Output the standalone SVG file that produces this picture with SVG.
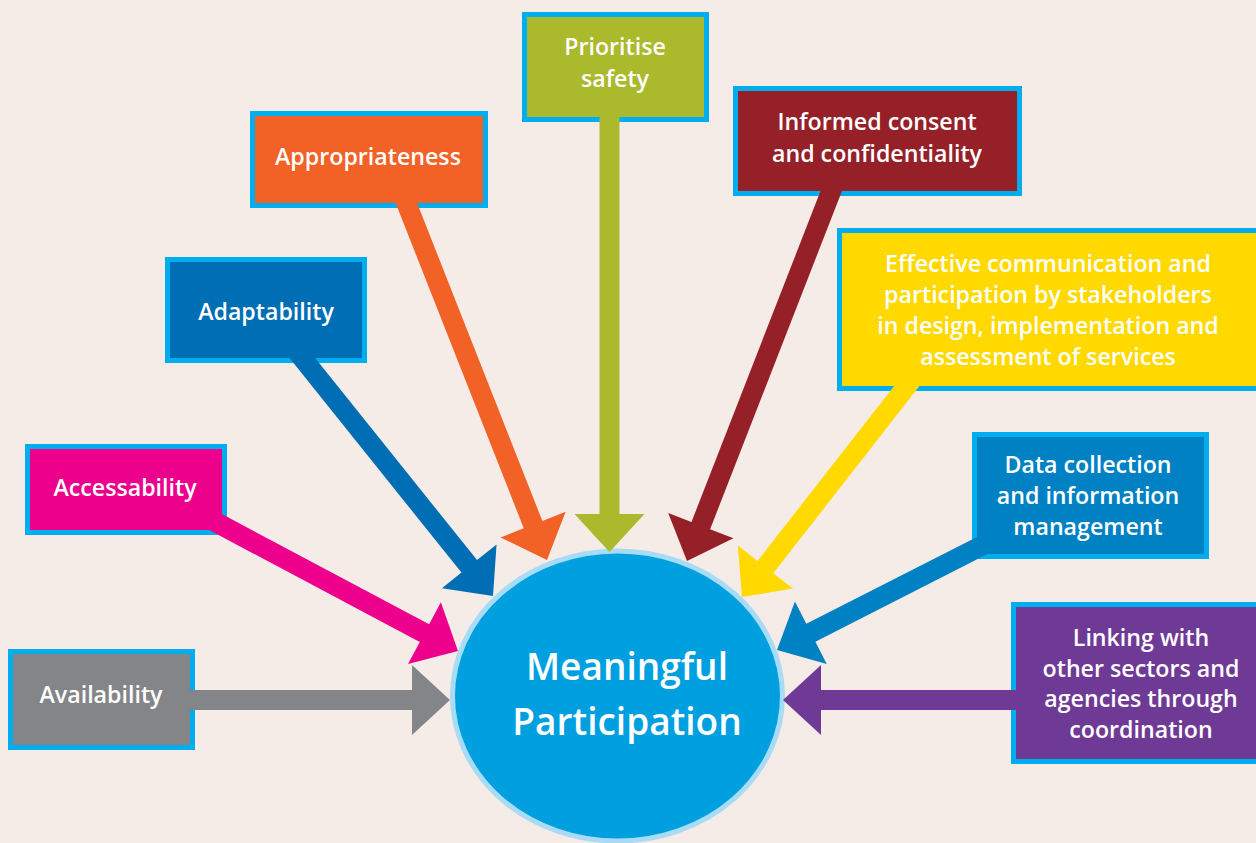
<svg xmlns="http://www.w3.org/2000/svg" width="1256" height="843" viewBox="0 0 1256 843">
  <style>
    .box { stroke: #00AEEF; stroke-width: 5; }
    .lbl { font-family: "Open Sans", "Noto Sans", "Liberation Sans", sans-serif; font-weight: 600; font-size: 23.2px; fill: #FFFFFF; text-anchor: middle; }
    .big { font-family: "Open Sans", "Noto Sans", "Liberation Sans", sans-serif; font-weight: 600; font-size: 37px; fill: #FFFFFF; text-anchor: middle; }
  </style>
  <rect x="0" y="0" width="1256" height="843" fill="#F5ECE7"/>

  <g id="center">
    <ellipse cx="617.5" cy="696" rx="165" ry="145" fill="#00A0E0" stroke="#A8DCF5" stroke-width="5"/>
    <text class="big" x="627" y="680">Meaningful</text>
    <text class="big" x="627" y="735">Participation</text>
  </g>

  <g id="availability">
    <rect class="box" x="10.5" y="651.5" width="182" height="96" fill="#848589"/>
    <text class="lbl" x="101" y="703">Availability</text>
  </g>
  <g id="accessability">
    <rect class="box" x="27.5" y="446.5" width="197" height="86" fill="#EC008C"/>
    <text class="lbl" x="125" y="496">Accessability</text>
  </g>
  <g id="adaptability">
    <rect class="box" x="167.5" y="259.5" width="197" height="101" fill="#006EB5"/>
    <text class="lbl" x="266" y="320">Adaptability</text>
  </g>
  <g id="appropriateness">
    <rect class="box" x="252.5" y="113.5" width="233" height="92" fill="#F26125"/>
    <text class="lbl" x="368" y="165">Appropriateness</text>
  </g>
  <g id="prioritise-safety">
    <rect class="box" x="524.5" y="14.5" width="182" height="105" fill="#ABB92D"/>
    <text class="lbl" x="615" y="55">Prioritise</text>
    <text class="lbl" x="615" y="87">safety</text>
  </g>
  <g id="informed-consent">
    <rect class="box" x="735.5" y="88.5" width="284" height="105" fill="#962027"/>
    <text class="lbl" x="877" y="130">Informed consent</text>
    <text class="lbl" x="877" y="162">and confidentiality</text>
  </g>
  <g id="effective-communication">
    <rect class="box" x="839.5" y="230.5" width="430" height="158" fill="#FFD900"/>
    <text class="lbl" x="1048" y="272">Effective communication and</text>
    <text class="lbl" x="1048" y="303">participation by stakeholders</text>
    <text class="lbl" x="1048" y="334">in design, implementation and</text>
    <text class="lbl" x="1048" y="365">assessment of services</text>
  </g>
  <g id="data-collection">
    <rect class="box" x="974.5" y="434.5" width="232" height="122" fill="#0081C4"/>
    <text class="lbl" x="1088" y="473">Data collection</text>
    <text class="lbl" x="1088" y="504">and information</text>
    <text class="lbl" x="1088" y="535">management</text>
  </g>
  <g id="linking">
    <rect class="box" x="1013.5" y="604.5" width="260" height="157" fill="#6F3A96"/>
    <text class="lbl" x="1141" y="646">Linking with</text>
    <text class="lbl" x="1141" y="677">other sectors and</text>
    <text class="lbl" x="1141" y="707">agencies through</text>
    <text class="lbl" x="1141" y="738">coordination</text>
  </g>

  <g id="connectors">
    <path fill="#848589" transform="translate(450,700) rotate(0)" d="M0,0 L-38,-35 L-38,-10 L-260,-10 L-260,10 L-38,10 L-38,35 Z"/>
    <path fill="#EC008C" transform="translate(458,651) rotate(28)" d="M0,0 L-38,-35 L-38,-10 L-285,-10 L-285,10 L-38,10 L-38,35 Z"/>
    <path fill="#006EB5" transform="translate(493,596) rotate(51.3)" d="M0,0 L-38,-35 L-38,-10 L-320,-10 L-320,10 L-38,10 L-38,35 Z"/>
    <path fill="#F26125" transform="translate(547,560) rotate(68.5)" d="M0,0 L-38,-35 L-38,-10 L-390,-10 L-390,10 L-38,10 L-38,35 Z"/>
    <path fill="#ABB92D" transform="translate(609.5,552) rotate(90)" d="M0,0 L-38,-35 L-38,-10 L-445,-10 L-445,10 L-38,10 L-38,35 Z"/>
    <path fill="#962027" transform="translate(687,561) rotate(111.3)" d="M0,0 L-38,-35 L-38,-10 L-405,-10 L-405,10 L-38,10 L-38,35 Z"/>
    <path fill="#FFD900" transform="translate(742,597) rotate(128)" d="M0,0 L-38,-35 L-38,-10 L-285,-10 L-285,10 L-38,10 L-38,35 Z"/>
    <path fill="#0081C4" transform="translate(777,650) rotate(153)" d="M0,0 L-38,-35 L-38,-10 L-235,-10 L-235,10 L-38,10 L-38,35 Z"/>
    <path fill="#6F3A96" transform="translate(783,700) rotate(180)" d="M0,0 L-38,-35 L-38,-10 L-235,-10 L-235,10 L-38,10 L-38,35 Z"/>
  </g>
</svg>
